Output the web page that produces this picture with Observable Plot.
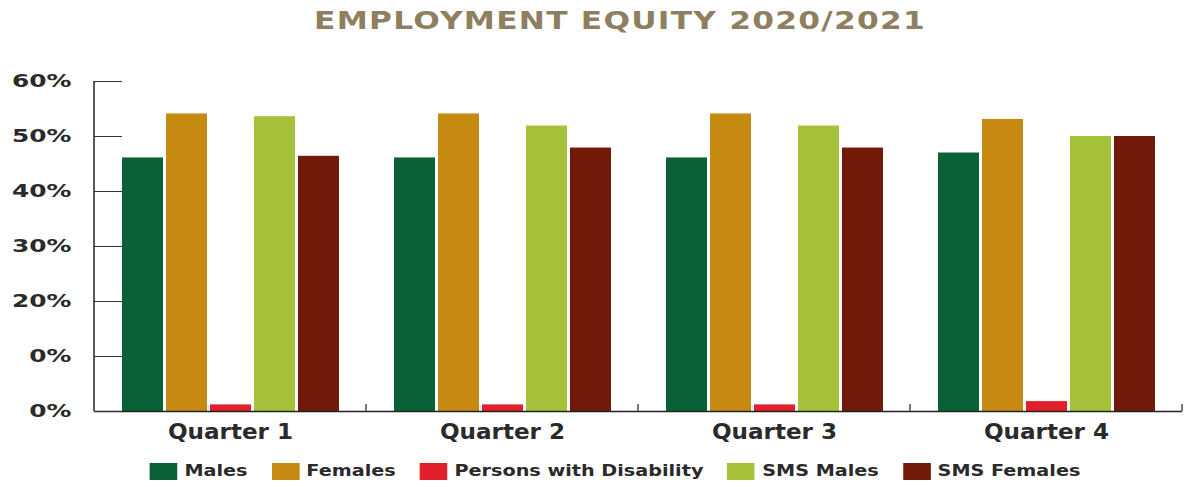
<!DOCTYPE html>
<html>
<head>
<meta charset="utf-8">
<script src="https://cdn.jsdelivr.net/npm/d3@7"></script>
<script src="https://cdn.jsdelivr.net/npm/@observablehq/plot@0.6"></script>
<style>
  html, body { margin: 0; padding: 0; background: #fff; }
  body { width: 1188px; height: 487px; overflow: hidden; position: relative; font-family: "DejaVu Sans", sans-serif; }
  #title { position: absolute; left: 620px; top: 6px; white-space: nowrap; transform: translateX(-50%) scaleX(1.25);
    font-size: 25px; line-height: 30px; font-weight: bold; color: #8f7f60; letter-spacing: 1px; }
  #chart { position: absolute; left: 0; top: 50px; }
  #legend { position: absolute; left: 615px; top: 461px; white-space: nowrap; transform: translateX(-50%) scaleX(1.2);
    display: flex; align-items: center; gap: 20px;
    font-size: 16px; line-height: 20px; font-weight: bold; color: #2a2a2a; }
  .item { display: flex; align-items: center; gap: 6px; }
  .sw { width: 23px; height: 17px; display: inline-block; }
</style>
</head>
<body>
<div id="title">EMPLOYMENT EQUITY 2020/2021</div>
<div id="chart"></div>
<div id="legend"></div>
<script>
const quarters = ["Quarter 1", "Quarter 2", "Quarter 3", "Quarter 4"];
const series = ["Males", "Females", "Persons with Disability", "SMS Males", "SMS Females"];
const seriesColors = ["#0b6136", "#c68a12", "#e21f2a", "#a6c23a", "#721a0a"];
const males = [46.1, 46.1, 46.1, 47.0];
const females = [54.1, 54.1, 54.1, 53.1];
const disability = [1.2, 1.2, 1.2, 1.8];
const smsMales = [53.6, 51.9, 51.9, 50.0];
const smsFemales = [46.4, 47.9, 47.9, 50.0];
const yTicks = [0, 10, 20, 30, 40, 50, 60];
const yTickLabels = ["0%", "0%", "20%", "30%", "40%", "50%", "60%"];

const valuesBySeries = [males, females, disability, smsMales, smsFemales];
const data = [];
quarters.forEach((q, i) => {
  series.forEach((s, j) => data.push({quarter: q, series: s, value: valuesBySeries[j][i]}));
});

const plot = Plot.plot({
  width: 1188,
  height: 400,
  marginLeft: 92,
  marginRight: 5,
  marginTop: 31,
  marginBottom: 39,
  style: {fontFamily: "DejaVu Sans, sans-serif", color: "#2a2a2a", background: "#fff"},
  fx: {domain: quarters, padding: 0, label: null},
  x: {domain: series, paddingInner: 0.07, paddingOuter: 0.58, axis: null},
  y: {domain: [0, 60], label: null},
  color: {domain: series, range: seriesColors},
  marks: [
    Plot.barY(data, {fx: "quarter", x: "series", y: "value", fill: "series"}),
    Plot.ruleY([0], {stroke: "#222", strokeWidth: 1.5}),
    Plot.axisY({ticks: yTicks, tickSize: 0, tickPadding: 23, fontSize: 18, fontWeight: "bold",
      tickFormat: d => yTickLabels[yTicks.indexOf(d)], label: null}),
    Plot.axisY({ticks: yTicks, tickSize: -28, tickFormat: () => "", label: null, stroke: "#333"}),
    Plot.axisFx({anchor: "bottom", tickSize: 0, tickPadding: 13, fontSize: 21, fontWeight: "bold", label: null})
  ]
});
document.getElementById("chart").appendChild(plot);

const svg = d3.select(plot);
// widen the glyphs horizontally, like the reference lettering
function stretch(sel, s) {
  sel.each(function() {
    const t = d3.select(this);
    let tr = t.attr("transform");
    if (!tr) {
      const x = +t.attr("x") || 0, y = +t.attr("y") || 0;
      t.attr("x", null).attr("y", null);
      tr = `translate(${x},${y})`;
    }
    t.attr("transform", tr + ` scale(${s},1)`);
  });
}
stretch(svg.selectAll("[aria-label='y-axis tick label'] text"), 1.38);
stretch(svg.selectAll("[aria-label='fx-axis tick label'] text"), 1.1);

// axis line and category boundary ticks, positioned from the plot's own scales
const fx = plot.scale("fx");
const y = plot.scale("y");
const left = fx.apply(quarters[0]);
const bounds = quarters.map(q => fx.apply(q) + fx.bandwidth);
svg.append("line").attr("x1", left).attr("x2", left)
  .attr("y1", y.apply(0)).attr("y2", y.apply(60)).attr("stroke", "#222").attr("stroke-width", 1.5);
bounds.forEach(b => {
  svg.append("line").attr("x1", b).attr("x2", b)
    .attr("y1", y.apply(0)).attr("y2", y.apply(0) - 7).attr("stroke", "#222").attr("stroke-width", 1.2);
});

const legend = d3.select("#legend");
series.forEach((s, i) => {
  const it = legend.append("div").attr("class", "item");
  it.append("span").attr("class", "sw").style("background", seriesColors[i]);
  it.append("span").text(s);
});
</script>
</body>
</html>
